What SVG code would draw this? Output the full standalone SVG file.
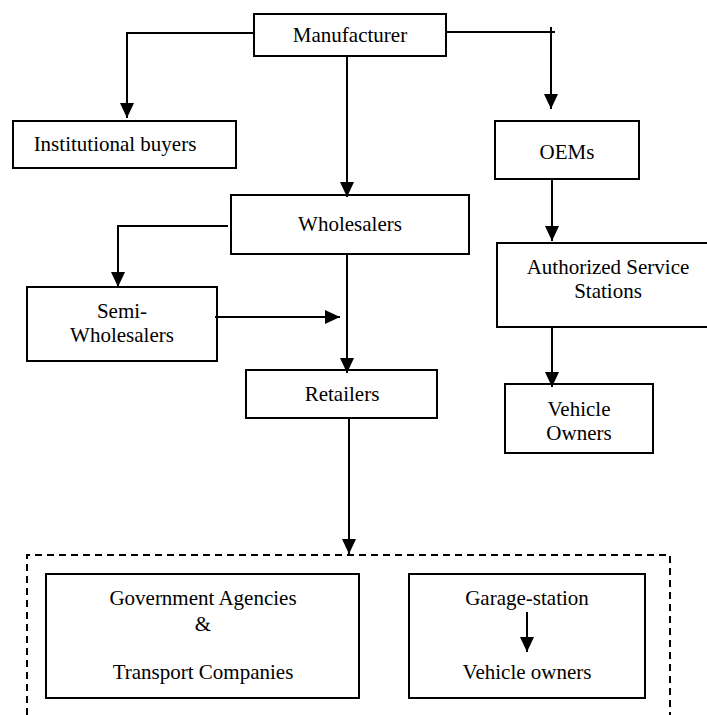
<svg xmlns="http://www.w3.org/2000/svg" width="707" height="715" viewBox="0 0 707 715">
  <style>
    .box { fill: #ffffff; stroke: #000000; stroke-width: 2; }
    .line { fill: none; stroke: #000000; stroke-width: 2; }
    .dash { fill: none; stroke: #000000; stroke-width: 2; stroke-dasharray: 7 5; }
    .label { font-family: "Liberation Serif", "Times New Roman", serif; font-size: 21px; fill: #000000; text-anchor: middle; }
  </style>
  <defs>
    <marker id="arrow" viewBox="0 0 15 14" refX="15" refY="7" markerWidth="15" markerHeight="14" markerUnits="userSpaceOnUse" orient="auto">
      <path d="M0,0 L15,7 L0,14 Z" fill="#000000"/>
    </marker>
  </defs>

  <rect x="0" y="0" width="707" height="715" fill="#ffffff"/>

  <!-- dashed end-customer enclosure (open at the bottom) -->
  <g id="end-customers">
    <path class="dash" d="M27,715 V555 H670 V715"/>
  </g>

  <g id="manufacturer">
    <rect class="box" x="254" y="14" width="192" height="42"/>
    <text class="label" x="350" y="42">Manufacturer</text>
  </g>

  <g id="institutional-buyers">
    <rect class="box" x="13" y="121" width="223" height="47"/>
    <text class="label" x="115" y="151">Institutional buyers</text>
  </g>

  <g id="oems">
    <rect class="box" x="495" y="121" width="144" height="58"/>
    <text class="label" x="567" y="159">OEMs</text>
  </g>

  <g id="wholesalers">
    <rect class="box" x="231" y="195" width="238" height="59"/>
    <text class="label" x="350" y="231">Wholesalers</text>
  </g>

  <g id="semi-wholesalers">
    <rect class="box" x="27" y="287" width="190" height="74"/>
    <text class="label" x="122" y="318">Semi-</text>
    <text class="label" x="122" y="342">Wholesalers</text>
  </g>

  <g id="authorized-service-stations">
    <rect class="box" x="497" y="243" width="214" height="84"/>
    <text class="label" x="608" y="274">Authorized Service</text>
    <text class="label" x="608" y="298">Stations</text>
  </g>

  <g id="retailers">
    <rect class="box" x="246" y="370" width="191" height="48"/>
    <text class="label" x="342" y="401">Retailers</text>
  </g>

  <g id="vehicle-owners">
    <rect class="box" x="505" y="384" width="148" height="69"/>
    <text class="label" x="579" y="416">Vehicle</text>
    <text class="label" x="579" y="440">Owners</text>
  </g>

  <g id="government-transport">
    <rect class="box" x="46" y="574" width="313" height="124"/>
    <text class="label" x="203" y="605">Government Agencies</text>
    <text class="label" x="203" y="631">&amp;</text>
    <text class="label" x="203" y="679">Transport Companies</text>
  </g>

  <g id="garage-station">
    <rect class="box" x="409" y="574" width="236" height="124"/>
    <text class="label" x="527" y="605">Garage-station</text>
    <text class="label" x="527" y="679">Vehicle owners</text>
  </g>

  <g id="connectors">
    <!-- Manufacturer to Institutional buyers -->
    <path class="line" d="M254,33 H127 V118" marker-end="url(#arrow)"/>
    <!-- Manufacturer to Wholesalers -->
    <path class="line" d="M347,56 V197" marker-end="url(#arrow)"/>
    <!-- Manufacturer to OEMs -->
    <path class="line" d="M446,32 H555"/>
    <path class="line" d="M551,27 V109" marker-end="url(#arrow)"/>
    <!-- Wholesalers to Semi-Wholesalers -->
    <path class="line" d="M228,226 H118 V287" marker-end="url(#arrow)"/>
    <!-- Semi-Wholesalers into the retail line -->
    <path class="line" d="M215,317 H340" marker-end="url(#arrow)"/>
    <!-- Wholesalers to Retailers -->
    <path class="line" d="M347,254 V373" marker-end="url(#arrow)"/>
    <!-- Retailers to end customers -->
    <path class="line" d="M349,418 V554" marker-end="url(#arrow)"/>
    <!-- OEMs to Authorized Service Stations -->
    <path class="line" d="M552,179 V241" marker-end="url(#arrow)"/>
    <!-- Authorized Service Stations to Vehicle Owners -->
    <path class="line" d="M552,327 V387" marker-end="url(#arrow)"/>
    <!-- Garage-station to Vehicle owners -->
    <path class="line" d="M527,612 V652" marker-end="url(#arrow)"/>
  </g>
</svg>
